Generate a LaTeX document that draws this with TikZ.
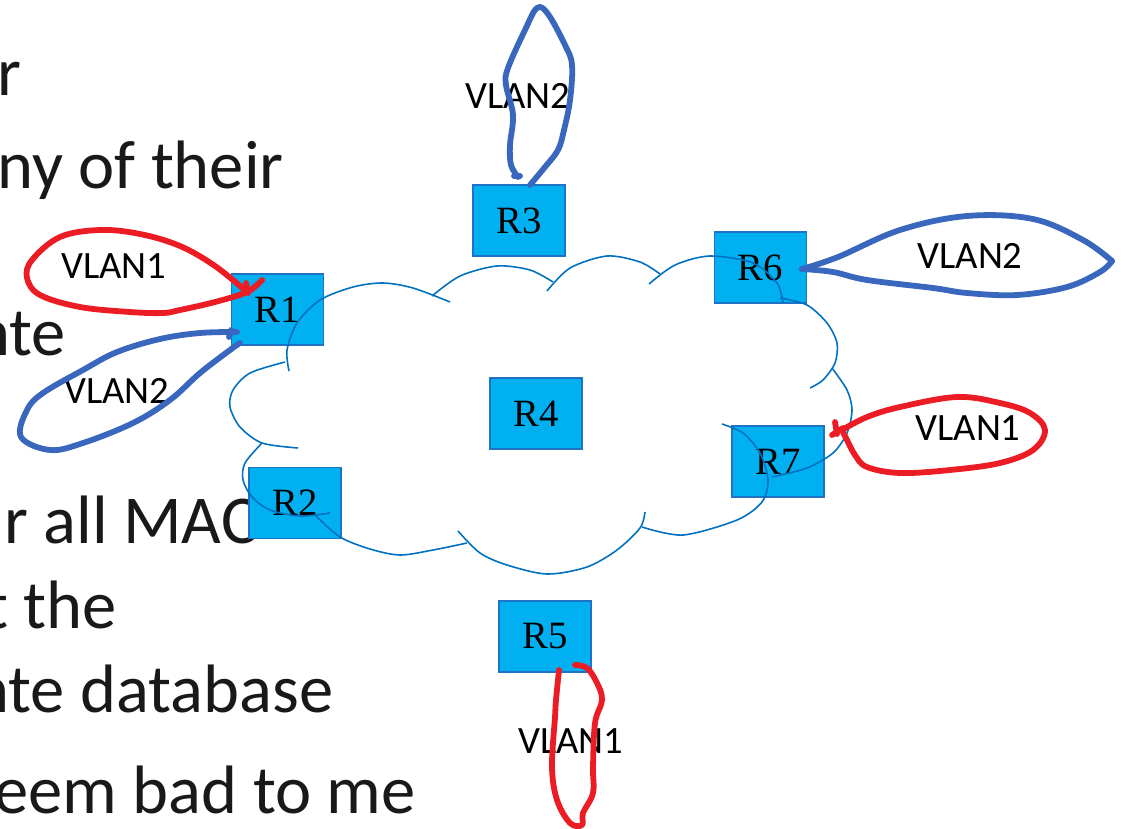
\documentclass[tikz,border=0pt]{standalone}
\usepackage{fontspec}
\newfontfamily\slidefont{Carlito}
\newfontfamily\routerfont{Liberation Serif}
\usepackage{tikz}
\definecolor{boxfill}{HTML}{00B0F0}
\definecolor{boxline}{HTML}{1F72C4}
\definecolor{cloudline}{HTML}{0070C0}
\definecolor{inkblue}{HTML}{3A67BE}
\definecolor{inkred}{HTML}{EC1C24}

\begin{document}
\begin{tikzpicture}[x=0.02cm, y=-0.02cm,
  router/.style={draw=boxline, line width=1pt, fill=boxfill, minimum width=1.84cm, minimum height=1.42cm, inner sep=0pt, font=\routerfont\fontsize{22}{26}\selectfont},
  vlan/.style={inner sep=0pt, font=\slidefont\fontsize{22}{26}\selectfont},
  slide/.style={anchor=base west, inner sep=0pt, text=black!90, font=\slidefont\fontsize{39}{46}\selectfont},
  cloudarc/.style={draw=cloudline, line width=0.9pt},
  redink/.style={draw=inkred, line width=3.3pt, line cap=round, line join=round},
  blueink/.style={draw=inkblue, line width=3.3pt, line cap=round, line join=round}]
\useasboundingbox (0,0) rectangle (1124,828);
\clip (0,0) rectangle (1124,828);

% slide text behind the sketch
\node[slide] (t1) at (-3,95) {r};
\node[slide] (t2) at (-3,188) {ny of their};
\node[slide] (t3) at (-26,355) {nte};
\node[slide] (t4) at (-29,543) {ar all MAC};
\node[slide] (t5) at (-15,628) {t the};
\node[slide] (t6) at (-27,712) {nte database};
\node[slide] (t7) at (-6,813) {eem bad to me};

% routers
\node[router] (r1) at (277.5,309.5) {R1};
\node[router] (r2) at (295,503) {R2};
\node[router] (r3) at (519,220.5) {R3};
\node[router] (r4) at (536,413.5) {R4};
\node[router] (r5) at (545,636.5) {R5};
\node[router] (r6) at (760.5,267.5) {R6};
\node[router] (r7) at (778,461.5) {R7};

% cloud
\draw[cloudarc] plot[smooth] coordinates {(289,371) (287,350) (297,323) (320,300) (353,287) (383,283) (413,288) (450,302)};
\draw[cloudarc] plot[smooth] coordinates {(432,296) (460,276) (497,266) (530,270) (553,282)};
\draw[cloudarc] plot[smooth] coordinates {(547,291) (570,268) (607,256) (640,262) (660,274)};
\draw[cloudarc] plot[smooth] coordinates {(649,284) (675,265) (710,256) (753,263) (777,283) (783,303)};
\draw[cloudarc] plot[smooth] coordinates {(780,298) (807,305) (827,323) (837,343) (835,363) (823,380) (810,388)};
\draw[cloudarc] plot[smooth] coordinates {(832,368) (847,390) (852,410) (847,433) (833,453) (807,468) (772,477)};
\draw[cloudarc] plot[smooth] coordinates {(722,424) (743,433) (760,453) (768,480) (762,502) (737,520) (683,535) (642,527)};
\draw[cloudarc] plot[smooth] coordinates {(645,512) (640,528) (617,550) (587,567) (547,574) (507,565) (480,553) (458,531)};
\draw[cloudarc] plot[smooth] coordinates {(467,543) (433,550) (400,555) (370,549) (340,537) (315,515)};
\draw[cloudarc] plot[smooth] coordinates {(262,443) (245,463) (243,480) (252,497) (270,510) (300,516) (330,513)};
\draw[cloudarc] plot[smooth] coordinates {(285,362) (250,373) (233,390) (230,407) (240,427) (262,443) (298,448)};

% vlan labels
\node[vlan] (v1) at (114,266) {VLAN1};
\node[vlan] (v2) at (117,391) {VLAN2};
\node[vlan] (v3) at (518,96) {VLAN2};
\node[vlan] (v4) at (970,256) {VLAN2};
\node[vlan] (v5) at (968,428) {VLAN1};
\node[vlan] (v6) at (571,741) {VLAN1};

% ink loops
\draw[redink] plot[smooth, tension=0.6] coordinates {(262,280) (247,292) (215,302) (180,310) (163,313) (130,312) (80,307) (40,295) (27,278) (32,260) (60,237) (100,230) (140,234) (180,246) (215,266) (247,292)};
\draw[redink] (246,283) -- (248,293);
\draw[blueink] plot[smooth, tension=0.6] coordinates {(237,332) (200,333) (160,339) (117,352) (83,370) (43,393) (27,410) (21,437) (50,450) (83,443) (133,423) (170,400) (200,373) (230,350) (240,343)};
\draw[blueink] (229,337) -- (231,330);
\draw[blueink] plot[smooth, tension=0.6] coordinates {(518,177) (511,165) (510,145) (513,115) (506,85) (508,68) (525,30) (537,8) (548,14) (565,45) (572,65) (570,100) (564,130) (558,150) (545,167) (530,185)};
\draw[blueink] (514,176) -- (520,176);
\draw[blueink] plot[smooth, tension=0.6] coordinates {(802,269) (838,257) (900,230) (967,216) (1033,219) (1083,240) (1112,261)};
\draw[blueink] plot[smooth, tension=0.6] coordinates {(1112,261) (1100,272) (1067,287) (1017,295) (967,293) (933,288) (867,280) (833,272) (802,269)};
\draw[redink] plot[smooth, tension=0.6] coordinates {(842,430) (867,417) (900,407) (957,397) (1000,403) (1030,413) (1045,430) (1033,450) (1000,463) (950,470) (900,473) (867,467) (855,455) (847,440) (842,430)};
\draw[redink] (835,422) -- (837,434);
\draw[redink] (832,435) -- (843,428);
\draw[redink] plot[smooth, tension=0.6] coordinates {(559,670) (556,700) (555,717) (552,767) (557,800) (570,823) (582,825) (583,813) (593,793) (593,767) (595,723) (602,700) (597,683) (587,668) (575,665)};
\end{tikzpicture}
\end{document}
